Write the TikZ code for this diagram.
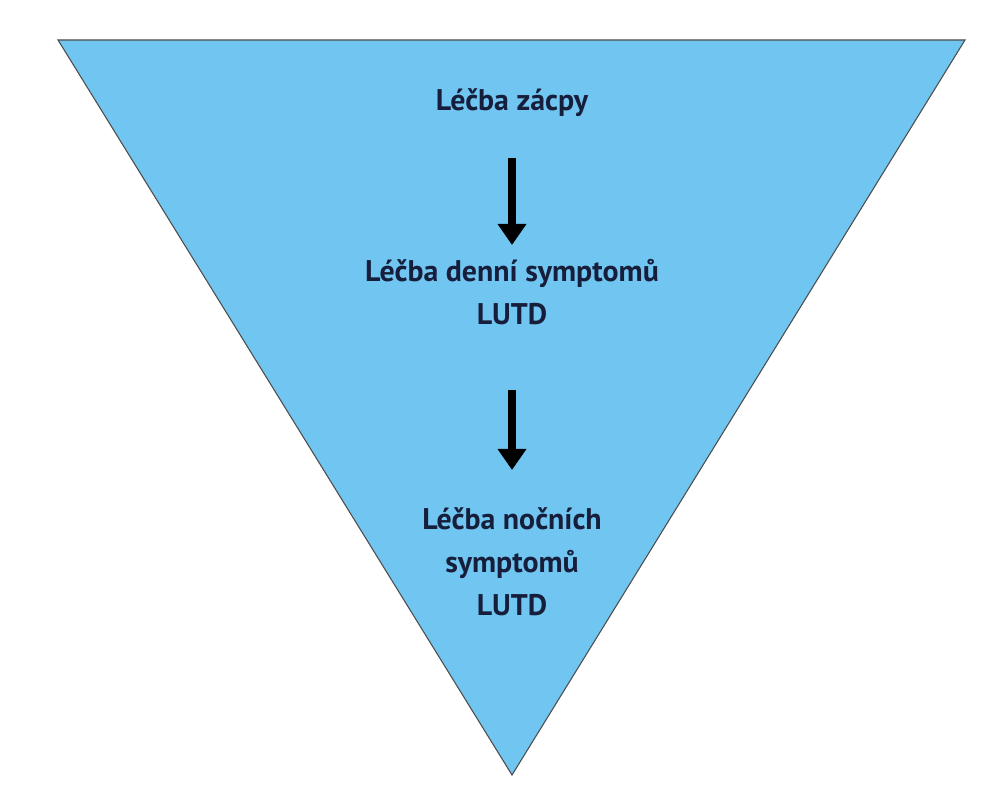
\documentclass[tikz,border=0pt]{standalone}
\usepackage{fontspec}
\setmainfont{PT Sans}
\usetikzlibrary{arrows.meta}
\definecolor{tri}{RGB}{112,198,240}
\definecolor{txt}{RGB}{22,30,60}
\tikzset{lbl/.style={text=txt,align=center,font=\fontsize{17}{24.5}\selectfont\bfseries},
 arr/.style={line width=4.5pt,draw=black,-{Triangle[width=0.55cm,length=0.42cm]}}}
\begin{document}
\begin{tikzpicture}
\useasboundingbox (0,0) rectangle (19.9,16);
\fill[white] (0,0) rectangle (19.9,16);
\draw[fill=tri,draw=black!70,line width=0.6pt] (1.16,15.2) -- (19.3,15.2) -- (10.24,0.5) -- cycle;
\node[lbl] (a) at (10.24,13.94) {Léčba zácpy};
\node[lbl] (b) at (10.24,10.16) {Léčba denní symptomů\\LUTD};
\node[lbl] (c) at (10.24,4.76) {Léčba nočních\\symptomů\\LUTD};
\coordinate (a1) at (10.24,12.84);
\coordinate (a2) at (10.24,11.1);
\coordinate (b1) at (10.24,8.2);
\coordinate (b2) at (10.24,6.6);
\draw[arr] (a1) -- (a2);
\draw[arr] (b1) -- (b2);
\end{tikzpicture}
\end{document}
